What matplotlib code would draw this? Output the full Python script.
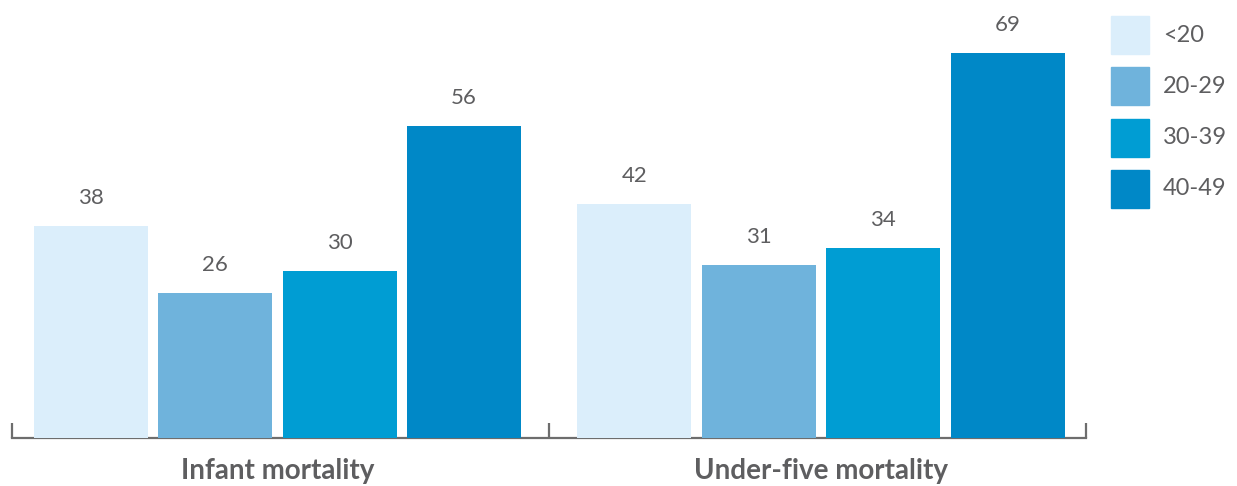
import matplotlib
matplotlib.use("Agg")
import matplotlib.pyplot as plt
from matplotlib.patches import Rectangle

# data
groups = ["Infant mortality", "Under-five mortality"]
age_groups = ["<20", "20-29", "30-39", "40-49"]
values = {
    "<20": [38, 42],
    "20-29": [26, 31],
    "30-39": [30, 34],
    "40-49": [56, 69],
}
colors = ["#dbeefb", "#6fb3dc", "#009dd3", "#0088c7"]

plt.rcParams["font.family"] = ["Lato", "DejaVu Sans"]
text_color = "#5e5e60"

W, H = 1237, 486
fig = plt.figure(figsize=(W / 100, H / 100), dpi=100)
# axes placed in pixel terms: x 12..1086, y bottom at 438 from top
ax = fig.add_axes([12 / W, (H - 438) / H, (1086 - 12) / W, 438 / H])

centers = [0.4944, 1.5065]
step = 0.2318
width = 0.2123
for i, (name, col) in enumerate(zip(age_groups, colors)):
    xs = [c + (i - 1.5) * step for c in centers]
    ax.bar(xs, values[name], width=width, color=col, label=name, zorder=2)
    for x, v in zip(xs, values[name]):
        ax.text(x, v + 5.0, str(v), ha="center", va="center",
                fontsize=16, color=text_color)

ax.set_xlim(0, 2)
ax.set_ylim(0, 78.5)
for s in ["top", "left", "right"]:
    ax.spines[s].set_visible(False)
ax.spines["bottom"].set_color("#6d6d6d")
ax.spines["bottom"].set_linewidth(1.6)
ax.spines["bottom"].set_zorder(1)
ax.set_yticks([])
ax.set_xticks([0, 1, 2])
ax.set_xticklabels([])
ax.tick_params(axis="x", direction="in", length=11, width=1.6, color="#6d6d6d")
for c, g in zip([0.4944, 1.5065], groups):
    ax.text(c, -0.075, g, transform=ax.get_xaxis_transform(),
            ha="center", va="center", fontsize=20, fontweight="bold",
            color=text_color)

# legend drawn by hand so the squares match the reference size
for i, (name, col) in enumerate(zip(age_groups, colors)):
    top = 16 + i * 51.3
    fig.add_artist(Rectangle((1111 / W, 1 - (top + 38) / H), 38 / W, 38 / H,
                             transform=fig.transFigure, color=col))
    fig.text(1163 / W, 1 - (top + 19) / H, name, ha="left", va="center",
             fontsize=17, color=text_color)

fig.savefig("out.png", dpi=100)
